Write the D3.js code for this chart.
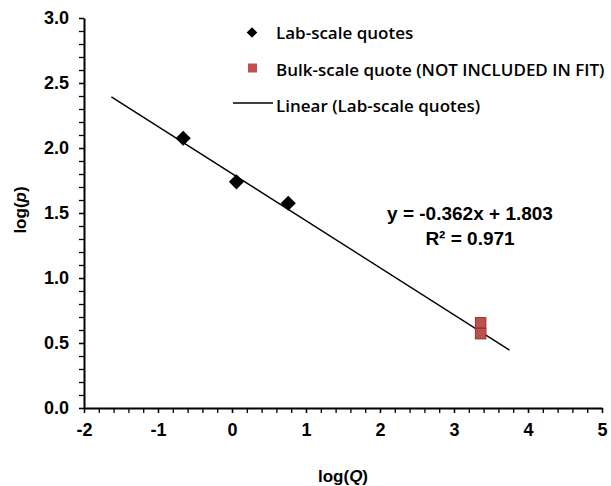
<!DOCTYPE html>
<html>
<head>
<meta charset="utf-8">
<script src="https://cdn.jsdelivr.net/npm/d3@7"></script>
<style>
  html, body { margin: 0; padding: 0; background: #fff; }
  svg { display: block; }
</style>
</head>
<body>
<svg id="chart" width="611" height="486"></svg>
<script>
// Lab-scale quotes (fitted)
var labQ = [-0.66, 0.06, 0.76];
var labP = [2.075, 1.74, 1.575];
// Bulk-scale quote (not in fit)
var bulkQ = [3.36, 3.36];
var bulkP = [0.655, 0.572];
// linear trendline, extended by forecast
var fitSlope = -0.362, fitIntercept = 1.803;
var fitRange = [-1.63, 3.75];
var xTicks = [-2, -1, 0, 1, 2, 3, 4, 5];
var yTicks = [0, 0.5, 1, 1.5, 2, 2.5, 3];
var legendLabels = ['Lab-scale quotes', 'Bulk-scale quote (NOT INCLUDED IN FIT)', 'Linear (Lab-scale quotes)'];
var eqLines = ['y = -0.362x + 1.803', 'R\u00b2 = 0.971'];

var svg = d3.select('#chart');
var axisFont = '"Liberation Sans", Arial, sans-serif';
var legFont = '"Open Sans", "Noto Sans", sans-serif';
var red = '#c0504d';

var x = d3.scaleLinear().domain([-2, 5]).range([84, 602]);
var y = d3.scaleLinear().domain([0, 3]).range([408, 18]);

// minor ticks
svg.append('g').attr('transform', 'translate(0,' + y(0) + ')')
  .call(d3.axisBottom(x).tickValues(d3.range(-2, 5.001, 0.2)).tickSize(5).tickFormat(''))
  .call(function (g) { g.select('.domain').remove(); g.selectAll('line').attr('stroke-width', 1.3); });
svg.append('g').attr('transform', 'translate(' + x(-2) + ',0)')
  .call(d3.axisLeft(y).tickValues(d3.range(0, 3.001, 0.1)).tickSize(5).tickFormat(''))
  .call(function (g) { g.select('.domain').remove(); g.selectAll('line').attr('stroke-width', 1.3); });

// major axes
var xa = svg.append('g').attr('transform', 'translate(0,' + y(0) + ')')
  .call(d3.axisBottom(x).tickValues(xTicks).tickSize(5).tickSizeOuter(0).tickPadding(10)
    .tickFormat(function (d) { return String(d); }));
var ya = svg.append('g').attr('transform', 'translate(' + x(-2) + ',0)')
  .call(d3.axisLeft(y).tickValues(yTicks).tickSize(5).tickSizeOuter(0).tickPadding(10)
    .tickFormat(function (d) { return d.toFixed(1); }));
[xa, ya].forEach(function (g) {
  g.select('.domain').attr('stroke-width', 2);
  g.selectAll('line').attr('stroke-width', 1.3);
  g.selectAll('text').style('font-family', axisFont).style('font-weight', 'bold')
    .style('font-size', '18px').attr('fill', '#000');
});

// axis titles
var xt = svg.append('text').attr('x', (x(-2) + x(5)) / 2).attr('y', 482)
  .attr('text-anchor', 'middle').style('font-family', axisFont).style('font-weight', 'bold')
  .style('font-size', '17px');
xt.append('tspan').text('log(');
xt.append('tspan').style('font-style', 'italic').text('Q');
xt.append('tspan').text(')');

var yt = svg.append('text').attr('transform', 'translate(26,' + 210 + ') rotate(-90)')
  .attr('text-anchor', 'middle').style('font-family', axisFont).style('font-weight', 'bold')
  .style('font-size', '17px');
yt.append('tspan').text('log(');
yt.append('tspan').style('font-style', 'italic').text('p');
yt.append('tspan').text(')');

// trendline
svg.append('line')
  .attr('x1', x(fitRange[0])).attr('y1', y(fitSlope * fitRange[0] + fitIntercept))
  .attr('x2', x(fitRange[1])).attr('y2', y(fitSlope * fitRange[1] + fitIntercept))
  .attr('stroke', '#000').attr('stroke-width', 1.4);

// bulk markers
var bs = 10.5;
svg.selectAll('.bulk').data(bulkQ).enter().append('rect').attr('class', 'bulk')
  .attr('x', function (d) { return x(d) - bs / 2; })
  .attr('y', function (d, i) { return y(bulkP[i]) - bs / 2; })
  .attr('width', bs).attr('height', bs)
  .attr('fill', red).attr('stroke', '#8a3431').attr('stroke-width', 1);

// lab diamonds
var diamond = d3.symbol().type(d3.symbolSquare).size(115);
svg.selectAll('.lab').data(labQ).enter().append('path').attr('class', 'lab')
  .attr('d', diamond)
  .attr('transform', function (d, i) { return 'translate(' + x(d) + ',' + y(labP[i]) + ') rotate(45)'; })
  .attr('fill', '#000');

// equation
svg.selectAll('.eq').data(eqLines).enter().append('text').attr('class', 'eq')
  .attr('x', 470).attr('y', function (d, i) { return 220 + i * 24.5; })
  .attr('text-anchor', 'middle').style('font-family', axisFont).style('font-weight', 'bold')
  .style('font-size', '19px').text(function (d) { return d; });

// legend
var legY = [33, 70, 106];
var leg = svg.append('g');
leg.append('path').attr('d', d3.symbol().type(d3.symbolSquare).size(56))
  .attr('transform', 'translate(252,' + (legY[0] - 0.5) + ') rotate(45)').attr('fill', '#000');
leg.append('rect').attr('x', 248).attr('y', legY[1] - 6.5).attr('width', 9).attr('height', 9).attr('fill', red);
leg.append('line').attr('x1', 233).attr('x2', 273).attr('y1', legY[2] - 3).attr('y2', legY[2] - 3)
  .attr('stroke', '#000').attr('stroke-width', 1.4);
leg.selectAll('.lt').data(legendLabels).enter().append('text').attr('class', 'lt')
  .attr('x', 276).attr('y', function (d, i) { return legY[i]; }).attr('dy', '0.35em')
  .style('font-family', legFont).style('font-weight', 600).style('font-size', '17px')
  .text(function (d) { return d; });
</script>
</body>
</html>
